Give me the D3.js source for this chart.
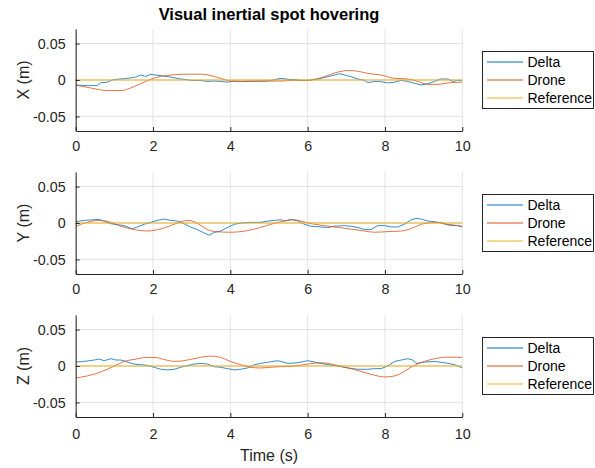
<!DOCTYPE html>
<html><head><meta charset="utf-8">
<script src="https://cdn.jsdelivr.net/npm/d3@7"></script>
<style>body{margin:0;background:#fff}svg{display:block;font-family:"Liberation Sans",Arial,sans-serif}</style>
</head><body><svg id="c" width="595" height="468"></svg>
<script>
const title = "Visual inertial spot hovering";
const yLabels = ["X (m)", "Y (m)", "Z (m)"];
const xLabel = "Time (s)";
const seriesNames = ["Delta", "Drone", "Reference"];
const xTicks = [0, 2, 4, 6, 8, 10];
const yTicks = [-0.05, 0, 0.05];
const referenceT = [0, 10];
const referenceV = [0, 0];

const xDelta = [[0,-0.0068],[0.3,-0.0077],[0.56,-0.0077],[0.65,-0.0036],[0.82,-0.003],[0.95,0],[1.08,0.001],[1.34,0.0023],[1.55,0.004],[1.68,0.0068],[1.81,0.005],[1.94,0.0077],[2.2,0.006],[2.46,0.004],[2.72,0.0014],[2.98,-0.0005],[3.24,-0.0005],[3.4,-0.002],[3.58,-0.0014],[3.75,-0.002],[3.92,-0.003],[4.1,-0.0014],[4.27,-0.002],[4.53,-0.0014],[4.79,-0.0014],[4.97,-0.0014],[5.14,0.0005],[5.31,0.0023],[5.49,0.001],[5.66,0.0005],[5.83,-0.0005],[6.0,-0.0005],[6.26,0.0014],[6.52,0.0045],[6.69,0.0068],[6.82,0.0086],[6.95,0.007],[7.13,0.0045],[7.3,0.0014],[7.47,-0.0005],[7.56,-0.0036],[7.73,-0.002],[7.9,-0.0023],[8.07,-0.004],[8.25,-0.003],[8.42,-0.0005],[8.59,-0.002],[8.76,-0.0045],[8.94,-0.0068],[9.11,-0.005],[9.28,-0.002],[9.45,0.0014],[9.63,0.0014],[9.75,-0.002],[9.88,-0.0005],[10,-0.0005]];
const xDrone = [[0,-0.007],[0.39,-0.011],[0.82,-0.0145],[1.17,-0.0145],[1.42,-0.011],[1.68,-0.005],[1.94,0.001],[2.2,0.005],[2.55,0.0072],[2.9,0.008],[3.24,0.008],[3.5,0.006],[3.75,0.0023],[4.0,-0.0014],[4.27,-0.002],[4.6,-0.002],[4.97,-0.0014],[5.31,-0.0014],[5.66,-0.0005],[6.0,-0.0005],[6.35,0.003],[6.69,0.0095],[7.04,0.013],[7.3,0.012],[7.56,0.009],[7.9,0.0068],[8.25,0.0023],[8.59,0.0014],[8.85,-0.002],[9.11,-0.006],[9.37,-0.006],[9.63,-0.004],[10,-0.003]];
const yDelta = [[0,0.0018],[0.22,0.0036],[0.48,0.0045],[0.61,0.005],[0.74,0.0023],[0.91,-0.001],[1.08,-0.0023],[1.25,-0.0036],[1.38,-0.0063],[1.46,-0.008],[1.6,-0.0054],[1.77,-0.0018],[1.94,0.0009],[2.11,0.0036],[2.28,0.0054],[2.46,0.0036],[2.63,0.0027],[2.8,-0.001],[2.97,-0.0054],[3.14,-0.009],[3.32,-0.0136],[3.45,-0.0167],[3.58,-0.013],[3.75,-0.011],[3.92,-0.0063],[4.1,-0.0018],[4.27,0],[4.53,0.0009],[4.79,0.0009],[4.97,0.0027],[5.14,0.0036],[5.31,0.0045],[5.4,0.0027],[5.57,0.005],[5.75,0.0027],[5.92,-0.0018],[6.09,-0.0045],[6.35,-0.0054],[6.52,-0.0063],[6.69,-0.0045],[6.95,-0.0036],[7.13,-0.0045],[7.3,-0.0063],[7.47,-0.009],[7.64,-0.009],[7.81,-0.0036],[7.99,-0.0036],[8.16,-0.0054],[8.33,-0.0054],[8.5,-0.0018],[8.68,0.0045],[8.8,0.0063],[8.94,0.0054],[9.11,0.0027],[9.28,0.0018],[9.45,0],[9.67,-0.0032],[9.88,-0.0036],[10,-0.0054]];
const yDrone = [[0,-0.0045],[0.3,0.001],[0.61,0.0036],[0.91,0.001],[1.17,-0.0045],[1.51,-0.009],[1.86,-0.011],[2.2,-0.008],[2.46,-0.0036],[2.72,0.0018],[2.9,0.0036],[3.07,0.0018],[3.24,-0.0036],[3.4,-0.009],[3.66,-0.012],[4.0,-0.0127],[4.44,-0.0105],[4.75,-0.0065],[4.97,-0.003],[5.23,0.0009],[5.49,0.0036],[5.66,0.0045],[5.83,0.0027],[6.09,-0.0009],[6.44,-0.0036],[6.78,-0.006],[7.13,-0.0085],[7.47,-0.011],[7.73,-0.0127],[8.07,-0.0118],[8.42,-0.011],[8.68,-0.0077],[8.94,-0.0018],[9.2,0.0005],[9.37,0.0009],[9.63,-0.0018],[9.88,-0.0036],[10,-0.0045]];
const zDelta = [[0,0.0054],[0.22,0.0063],[0.48,0.0082],[0.61,0.0095],[0.74,0.0073],[0.91,0.01],[1.04,0.0082],[1.17,0.0082],[1.34,0.0054],[1.51,0.0027],[1.68,0.0018],[1.85,0.0009],[2.03,-0.0018],[2.2,-0.0045],[2.37,-0.0054],[2.55,-0.0045],[2.72,-0.0018],[2.9,0.0009],[3.07,0.0027],[3.24,0.0036],[3.4,0.0027],[3.58,-0.0009],[3.75,-0.0018],[3.92,-0.0036],[4.1,-0.0054],[4.27,-0.0045],[4.44,-0.0027],[4.62,0.0018],[4.79,0.0036],[5.0,0.0054],[5.23,0.0073],[5.49,0.0036],[5.75,0.0045],[6.0,0.0073],[6.26,0.0045],[6.52,0.0018],[6.78,0],[7.04,-0.0027],[7.3,-0.0045],[7.56,-0.0045],[7.73,-0.0036],[7.9,-0.0036],[8.07,0],[8.25,0.0063],[8.42,0.0082],[8.59,0.01],[8.72,0.0082],[8.8,0.0036],[9.02,0.0054],[9.28,0.0063],[9.54,0.0045],[9.8,0.0018],[10,-0.0027]];
const zDrone = [[0,-0.0163],[0.3,-0.0136],[0.65,-0.0082],[1.0,0],[1.25,0.0063],[1.51,0.009],[1.85,0.0118],[2.03,0.0118],[2.28,0.009],[2.55,0.0063],[2.8,0.0073],[3.14,0.0109],[3.49,0.0136],[3.75,0.0118],[4.0,0.0063],[4.27,0.0018],[4.53,-0.0018],[4.79,-0.0027],[5.0,-0.0018],[5.31,-0.0009],[5.66,0],[6.0,0.0027],[6.35,0.0045],[6.69,0.0018],[7.04,-0.0027],[7.38,-0.0073],[7.73,-0.0127],[7.99,-0.015],[8.25,-0.0136],[8.5,-0.0073],[8.76,0.0009],[9.02,0.0063],[9.28,0.01],[9.63,0.0122],[10,0.0118]];

const deltaSets = [xDelta, yDelta, zDelta];
const droneSets = [xDrone, yDrone, zDrone];
const colors = ["#0072BD", "#D95319", "#EDB120"];

const svg = d3.select("#c");
const L = 75.7, R = 462.3, H = 102;
const tops = [29, 172, 315];
const pads = [10, 10, 12];
const x = d3.scaleLinear().domain([0, 10]).range([L, R]);

svg.append("text").attr("x", (L + R) / 2).attr("y", 20).attr("text-anchor", "middle")
  .attr("font-size", 16.5).attr("font-weight", "bold").attr("fill", "#000").text(title);

tops.forEach((top, i) => {
  const y = d3.scaleLinear().domain([-0.07, 0.07]).range([top + H, top]);
  const g = svg.append("g");
  g.selectAll(".gx").data(xTicks).join("line")
    .attr("x1", d => x(d)).attr("x2", d => x(d)).attr("y1", top).attr("y2", top + H)
    .attr("stroke", "#e2e2e2").attr("stroke-width", 1);
  g.selectAll(".gy").data(yTicks).join("line")
    .attr("x1", L).attr("x2", R).attr("y1", d => y(d)).attr("y2", d => y(d))
    .attr("stroke", "#e2e2e2").attr("stroke-width", 1);

  const clipId = "clip" + i;
  svg.append("clipPath").attr("id", clipId).append("rect")
    .attr("x", L).attr("y", top).attr("width", R - L).attr("height", H);
  const lg = g.append("g").attr("clip-path", `url(#${clipId})`);
  const lineLin = d3.line().x(d => x(d[0])).y(d => y(d[1]));
  const lineSmooth = d3.line().x(d => x(d[0])).y(d => y(d[1])).curve(d3.curveMonotoneX);
  lg.append("path").datum(deltaSets[i]).attr("d", lineLin).attr("fill", "none")
    .attr("stroke", colors[0]).attr("stroke-width", 1).attr("stroke-opacity", 0.8);
  lg.append("path").datum(droneSets[i]).attr("d", lineSmooth).attr("fill", "none")
    .attr("stroke", colors[1]).attr("stroke-width", 1).attr("stroke-opacity", 0.8);
  lg.append("path").datum(referenceT.map((t, k) => [t, referenceV[k]])).attr("d", lineLin).attr("fill", "none")
    .attr("stroke", colors[2]).attr("stroke-width", 1);

  const xa = d3.axisBottom(x).tickValues(xTicks).tickSizeInner(-4).tickSizeOuter(0).tickPadding(pads[i]).tickFormat(d3.format("d"));
  const ya = d3.axisLeft(y).tickValues(yTicks).tickSizeInner(-4).tickSizeOuter(0).tickPadding(10)
    .tickFormat(d => d === 0 ? "0" : d3.format(".2f")(d).replace("−", "-"));
  const gx = g.append("g").attr("transform", `translate(0,${top + H})`).call(xa);
  const gy = g.append("g").attr("transform", `translate(${L},0)`).call(ya);
  [gx, gy].forEach(a => {
    a.select(".domain").attr("stroke", "#262626");
    a.selectAll(".tick line").attr("stroke", "#262626");
    a.selectAll("text").attr("font-size", 14.3).attr("fill", "#262626").attr("font-family", "Liberation Sans, Arial, sans-serif");
  });
  gx.selectAll(".tick text").attr("dy", "0.71em");

  svg.append("text").attr("transform", `translate(28.5,${top + H / 2}) rotate(-90)`)
    .attr("text-anchor", "middle").attr("font-size", 16).attr("fill", "#262626").text(yLabels[i]);

  const cy = top + H / 2;
  const lgd = svg.append("g");
  lgd.append("rect").attr("x", 482.5).attr("y", cy - 28.5).attr("width", 111).attr("height", 57)
    .attr("fill", "#fff").attr("stroke", "#262626").attr("stroke-width", 1);
  seriesNames.forEach((n, k) => {
    const ry = cy + (k - 1) * 18;
    lgd.append("line").attr("x1", 487).attr("x2", 523).attr("y1", ry).attr("y2", ry)
      .attr("stroke", colors[k]).attr("stroke-width", 1);
    lgd.append("text").attr("x", 527.5).attr("y", ry + 5).attr("font-size", 14).attr("fill", "#000").text(n);
  });
});

svg.append("text").attr("x", (L + R) / 2).attr("y", 461).attr("text-anchor", "middle")
  .attr("font-size", 16).attr("fill", "#262626").text(xLabel);
</script></body></html>
